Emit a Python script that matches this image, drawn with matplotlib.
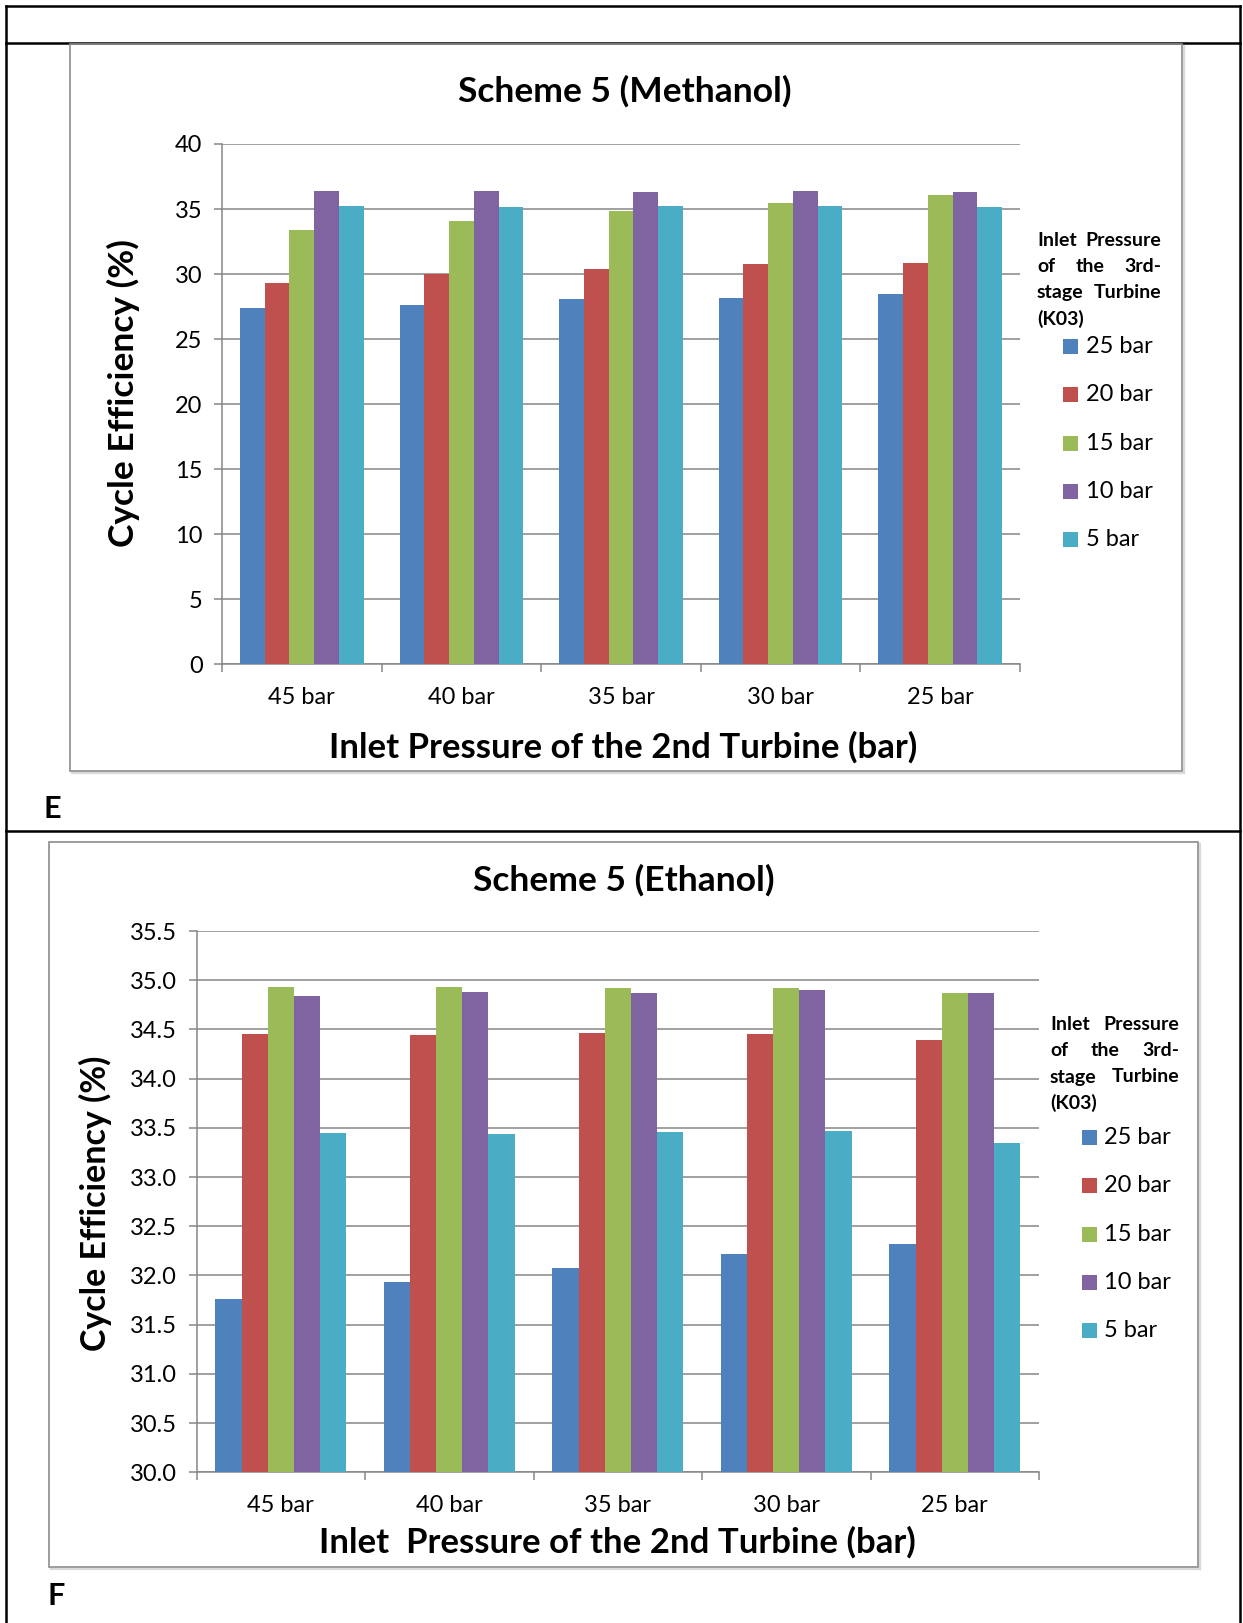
import matplotlib
matplotlib.use("Agg")
import matplotlib.pyplot as plt
from matplotlib.patches import Rectangle
from matplotlib.lines import Line2D
import numpy as np

plt.rcParams['font.family'] = ['Lato', 'DejaVu Sans']

# ---- data -------------------------------------------------------------
categories = ["45 bar", "40 bar", "35 bar", "30 bar", "25 bar"]
series_labels = ["25 bar", "20 bar", "15 bar", "10 bar", "5 bar"]
series_colors = ["#4F81BD", "#C0504D", "#9BBB59", "#8064A2", "#4BACC6"]

methanol_25 = [27.36, 27.64, 28.10, 28.20, 28.49]
methanol_20 = [29.31, 30.03, 30.36, 30.74, 30.82]
methanol_15 = [33.36, 34.05, 34.87, 35.46, 36.10]
methanol_10 = [36.41, 36.41, 36.31, 36.36, 36.31]
methanol_5 = [35.23, 35.18, 35.23, 35.23, 35.13]

ethanol_25 = [31.76, 31.93, 32.08, 32.22, 32.32]
ethanol_20 = [34.45, 34.44, 34.46, 34.45, 34.39]
ethanol_15 = [34.93, 34.93, 34.92, 34.92, 34.87]
ethanol_10 = [34.84, 34.88, 34.87, 34.90, 34.87]
ethanol_5 = [33.45, 33.44, 33.46, 33.47, 33.35]

methanol_ticks = [0, 5, 10, 15, 20, 25, 30, 35, 40]
ethanol_ticks = [30.0, 30.5, 31.0, 31.5, 32.0, 32.5, 33.0, 33.5, 34.0, 34.5, 35.0, 35.5]

legend_title = ["Inlet Pressure", "of the 3rd-", "stage Turbine", "(K03)"]

# ---- figure in pixel units -------------------------------------------
W, H = 1243, 1623
fig = plt.figure(figsize=(W / 100, H / 100), dpi=100)
fig.patch.set_facecolor("white")

TICK_SIZE = 17


def fx(x):
    return x / W


def fy(y):
    return 1 - y / H


def px_axes(x0, y0, x1, y1):
    return fig.add_axes([fx(x0), fy(y1), (x1 - x0) / W, (y1 - y0) / H])


def fig_line(xs, ys, color="black", lw=1.0, z=0):
    fig.add_artist(Line2D([fx(v) for v in xs], [fy(v) for v in ys],
                          transform=fig.transFigure, color=color, lw=lw,
                          zorder=z, solid_capstyle="projecting"))


def grey_box(x0, y0, x1, y1):
    fig_line([x0 + 2, x1 + 2], [y1 + 2, y1 + 2], color="#d9d9d9", lw=1.6)
    fig_line([x1 + 2, x1 + 2], [y0 + 2, y1 + 2], color="#d9d9d9", lw=1.6)
    fig.add_artist(Rectangle((fx(x0), fy(y1)), (x1 - x0) / W, (y1 - y0) / H,
                             transform=fig.transFigure, fill=False,
                             edgecolor="#8c8c8c", lw=1.2))


# outer table frame
fig_line([6, 1239.5], [6, 6], lw=1.8)
fig_line([6, 1239.5], [43, 43], lw=1.8)
fig_line([6, 1239.5], [831, 831], lw=1.8)
fig_line([6, 6], [6, 1623], lw=1.8)
fig_line([1239.5, 1239.5], [6, 1623], lw=1.8)

grey_box(70, 44, 1182, 771)
grey_box(49, 842, 1198, 1567)

GRID = "#868686"
renderer = fig.canvas.get_renderer()


def draw_chart(ax, series, ticks, ylim, fmt):
    x = np.arange(len(categories))
    bw = 0.155
    for i, (vals, col, lab) in enumerate(zip(series, series_colors, series_labels)):
        ax.bar(x + (i - 2) * bw, vals, width=bw, color=col, label=lab,
               edgecolor="none", zorder=3)
    ax.set_ylim(*ylim)
    ax.set_xlim(-0.5, len(categories) - 0.5)
    ax.set_yticks(ticks)
    ax.set_yticklabels([fmt.format(t) for t in ticks])
    ax.yaxis.grid(True, color=GRID, lw=1.1, zorder=0)
    ax.set_axisbelow(True)
    # category boundaries carry the tick marks, centres carry the labels
    ax.set_xticks(np.arange(-0.5, len(categories), 1.0))
    ax.set_xticklabels([])
    ax.set_xticks(x, minor=True)
    ax.set_xticklabels(categories, minor=True)
    ax.tick_params(axis="x", which="major", length=6, width=1.1, color=GRID)
    ax.tick_params(axis="x", which="minor", length=0, pad=16,
                   labelsize=TICK_SIZE)
    ax.tick_params(axis="y", length=6, width=1.1, color=GRID, pad=8,
                   labelsize=TICK_SIZE)
    for s in ("top", "right"):
        ax.spines[s].set_visible(False)
    for s in ("left", "bottom"):
        ax.spines[s].set_color(GRID)
        ax.spines[s].set_linewidth(1.1)


def legend_block(x_title0, x_title1, title_ys, title_size,
                 sq_x, first_y, step, text_x):
    # justified title, one word group per line
    for line, y in zip(legend_title, title_ys):
        words = line.split()
        arts = [fig.text(0, fy(y), w, fontsize=title_size, fontweight="bold",
                         va="center", ha="left") for w in words]
        widths = [a.get_window_extent(renderer).width for a in arts]
        if len(words) == 1:
            arts[0].set_x(fx(x_title0))
            continue
        gap = (x_title1 - x_title0 - sum(widths)) / (len(words) - 1)
        pos = x_title0
        for a, w in zip(arts, widths):
            a.set_x(fx(pos))
            pos += w + gap
    for k, (lab, col) in enumerate(zip(series_labels, series_colors)):
        yc = first_y + k * step
        fig.add_artist(Rectangle((fx(sq_x), fy(yc + 7.5)), 15 / W, 15 / H,
                                 transform=fig.transFigure, facecolor=col,
                                 edgecolor="none"))
        fig.text(fx(text_x), fy(yc), lab, fontsize=TICK_SIZE, va="center",
                 ha="left")


# ---- Scheme 5 (Methanol) ---------------------------------------------
ax1 = px_axes(222, 144, 1020, 664.5)
draw_chart(ax1, [methanol_25, methanol_20, methanol_15, methanol_10, methanol_5],
           methanol_ticks, (0, 40), "{:g}")
fig.text(fx(625), fy(91), "Scheme 5 (Methanol)", fontsize=25.5,
         fontweight="bold", ha="center", va="center")
fig.text(fx(623), fy(747), "Inlet Pressure of the 2nd Turbine (bar)",
         fontsize=25, fontweight="bold", ha="center", va="center")
fig.text(fx(123), fy(393), "Cycle Efficiency (%)", fontsize=25.5,
         fontweight="bold", ha="center", va="center", rotation=90)
legend_block(1037, 1161, [241, 266.5, 292.5, 318.5], 14,
             1063, 346.7, 48.2, 1086)
fig.text(fx(43), fy(818), "E", fontsize=22, fontweight="bold",
         ha="left", va="baseline")

# ---- Scheme 5 (Ethanol) ----------------------------------------------
ax2 = px_axes(196.5, 931, 1039, 1472.3)
draw_chart(ax2, [ethanol_25, ethanol_20, ethanol_15, ethanol_10, ethanol_5],
           ethanol_ticks, (30.0, 35.5), "{:.1f}")
fig.text(fx(624), fy(880), "Scheme 5 (Ethanol)", fontsize=25.5,
         fontweight="bold", ha="center", va="center")
fig.text(fx(617), fy(1542), "Inlet  Pressure of the 2nd Turbine (bar)",
         fontsize=25, fontweight="bold", ha="center", va="center")
fig.text(fx(95), fy(1203), "Cycle Efficiency (%)", fontsize=24.5,
         fontweight="bold", ha="center", va="center", rotation=90)
legend_block(1050, 1179, [1025, 1051, 1077, 1103.3], 14,
             1082, 1137.3, 48.4, 1104)
fig.text(fx(47), fy(1605), "F", fontsize=22, fontweight="bold",
         ha="left", va="baseline")

fig.savefig("out.png", dpi=100)
